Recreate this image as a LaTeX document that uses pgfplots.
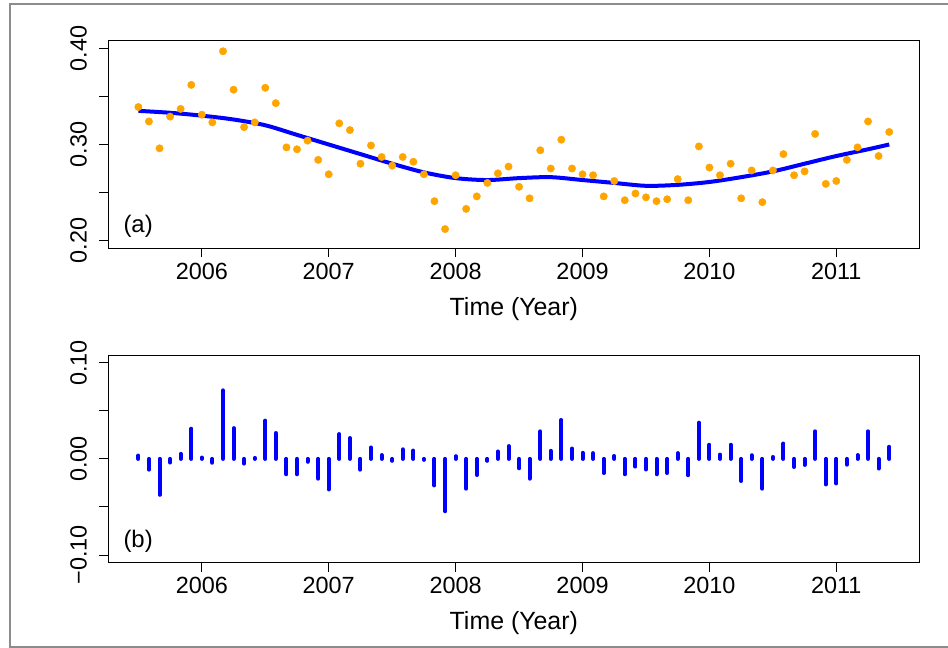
\documentclass[border=0pt]{standalone}
\usepackage{fontspec}
\setmainfont{Liberation Sans}
\usepackage{pgfplots}
\pgfplotsset{compat=1.18}
\usepackage{pgfplotstable}
\definecolor{rorange}{RGB}{255,165,0}
\definecolor{rblue}{RGB}{0,0,255}
\definecolor{framegray}{RGB}{140,140,140}

\pgfplotstableread{
x y
2005.500 0.339
2005.583 0.324
2005.667 0.296
2005.750 0.329
2005.833 0.337
2005.917 0.362
2006.000 0.331
2006.083 0.323
2006.167 0.397
2006.250 0.357
2006.333 0.318
2006.417 0.323
2006.500 0.359
2006.583 0.343
2006.667 0.297
2006.750 0.295
2006.833 0.304
2006.917 0.284
2007.000 0.269
2007.083 0.322
2007.167 0.315
2007.250 0.280
2007.333 0.299
2007.417 0.287
2007.500 0.278
2007.583 0.287
2007.667 0.282
2007.750 0.269
2007.833 0.241
2007.917 0.212
2008.000 0.268
2008.083 0.233
2008.167 0.246
2008.250 0.260
2008.333 0.270
2008.417 0.277
2008.500 0.256
2008.583 0.244
2008.667 0.294
2008.750 0.275
2008.833 0.305
2008.917 0.275
2009.000 0.269
2009.083 0.268
2009.167 0.246
2009.250 0.262
2009.333 0.242
2009.417 0.249
2009.500 0.245
2009.583 0.241
2009.667 0.243
2009.750 0.264
2009.833 0.242
2009.917 0.298
2010.000 0.276
2010.083 0.268
2010.167 0.280
2010.250 0.244
2010.333 0.273
2010.417 0.240
2010.500 0.273
2010.583 0.290
2010.667 0.268
2010.750 0.272
2010.833 0.311
2010.917 0.259
2011.000 0.262
2011.083 0.284
2011.167 0.297
2011.250 0.324
2011.333 0.288
2011.417 0.313
}\dots

\pgfplotstableread{
x y
2005.500 0.335
2005.750 0.333
2006.000 0.330
2006.250 0.326
2006.500 0.320
2006.750 0.310
2007.000 0.300
2007.250 0.290
2007.500 0.280
2007.750 0.271
2008.000 0.265
2008.250 0.263
2008.500 0.265
2008.750 0.266
2009.000 0.263
2009.250 0.260
2009.500 0.257
2009.750 0.258
2010.000 0.261
2010.250 0.266
2010.500 0.272
2010.750 0.280
2011.000 0.288
2011.250 0.295
2011.417 0.300
}\trend

\pgfplotstableread{
x r
2005.500 0.0035
2005.583 -0.0112
2005.667 -0.0374
2005.750 -0.0038
2005.833 0.0052
2005.917 0.0314
2006.000 0.0014
2006.083 -0.0040
2006.167 0.0713
2006.250 0.0320
2006.333 -0.0049
2006.417 0.0010
2006.500 0.0398
2006.583 0.0269
2006.667 -0.0160
2006.750 -0.0160
2006.833 -0.0030
2006.917 -0.0206
2007.000 -0.0318
2007.083 0.0258
2007.167 0.0217
2007.250 -0.0112
2007.333 0.0119
2007.417 0.0040
2007.500 -0.0020
2007.583 0.0100
2007.667 0.0087
2007.750 -0.0010
2007.833 -0.0276
2007.917 -0.0545
2008.000 0.0028
2008.083 -0.0310
2008.167 -0.0168
2008.250 -0.0020
2008.333 0.0077
2008.417 0.0133
2008.500 -0.0098
2008.583 -0.0206
2008.667 0.0287
2008.750 0.0084
2008.833 0.0405
2008.917 0.0108
2009.000 0.0063
2009.083 0.0060
2009.167 -0.0147
2009.250 0.0030
2009.333 -0.0160
2009.417 -0.0080
2009.500 -0.0110
2009.583 -0.0160
2009.667 -0.0147
2009.750 0.0060
2009.833 -0.0170
2009.917 0.0377
2010.000 0.0147
2010.083 0.0045
2010.167 0.0147
2010.250 -0.0230
2010.333 0.0038
2010.417 -0.0310
2010.500 0.0020
2010.583 0.0160
2010.667 -0.0084
2010.750 -0.0063
2010.833 0.0287
2010.917 -0.0266
2011.000 -0.0255
2011.083 -0.0060
2011.167 0.0040
2011.250 0.0287
2011.333 -0.0100
2011.417 0.0126
}\resid

\pgfplotsset{
  rstyle/.style={
    scale only axis, width=811bp, height=207.6bp,
    anchor=south west,
    xmin=2005.263, xmax=2011.654,
    axis line style={black, line width=0.9bp},
    tick align=outside, xtick pos=left, ytick pos=left,
    major tick length=9bp,
    every tick/.style={black, line width=0.9bp},
    xtick={2006,2007,2008,2009,2010,2011},
    xticklabels={2006,2007,2008,2009,2010,2011},
    ticklabel style={font=\fontsize{23.5}{27}\selectfont},
    xticklabel style={yshift=-2bp},
    yticklabel style={rotate=90, anchor=south, yshift=9bp},
    xlabel={Time (Year)},
    xlabel style={font=\fontsize{25}{29}\selectfont, yshift=-11bp},
    clip=false,
  }
}

\begin{document}
\begin{tikzpicture}[x=1bp,y=1bp]
\useasboundingbox (0,0) rectangle (948,648);
\draw[framegray, line width=1.5bp] (960,644) -- (10,644) -- (10,1) -- (960,1);

\begin{axis}[rstyle, at={(108.3bp,399.7bp)},
  ymin=0.192, ymax=0.408,
  ytick={0.20,0.25,0.30,0.35,0.40},
  yticklabels={0.20,,0.30,,0.40}]
  \addplot[only marks, mark=*, mark size=3.7bp, color=rorange, mark options={draw=none, fill=rorange}] table[x=x,y=y] {\dots};
  \addplot[rblue, line width=4bp, smooth] table[x=x,y=y] {\trend};
  \node[font=\fontsize{24}{28}\selectfont] at (axis cs:2005.498,0.2153) {(a)};
\end{axis}

\begin{axis}[rstyle, at={(108.3bp,85.3bp)},
  ymin=-0.108, ymax=0.108,
  ytick={-0.10,-0.05,0,0.05,0.10},
  yticklabels={−0.10,,0.00,,0.10}]
  \addplot[ycomb, rblue, line width=4bp, line cap=round, mark=none] table[x=x,y=r] {\resid};
  \node[font=\fontsize{24}{28}\selectfont] at (axis cs:2005.498,-0.0859) {(b)};
\end{axis}
\end{tikzpicture}
\end{document}
